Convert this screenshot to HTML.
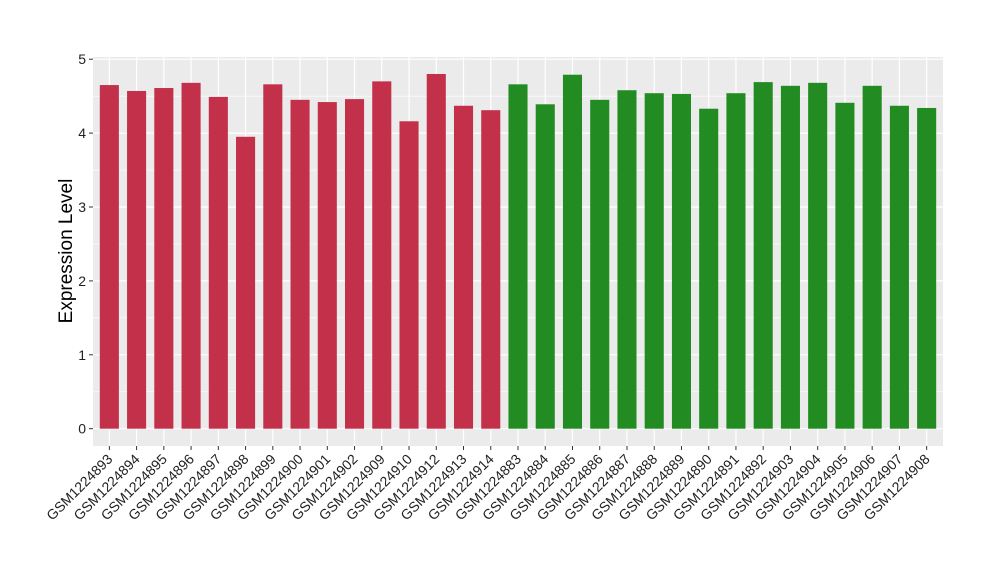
<!DOCTYPE html>
<html><head><meta charset="utf-8"><style>body{margin:0;background:#fff}svg text{font-family:"Liberation Sans",Arial,sans-serif}</style></head>
<body>
<svg id="chart" width="1000" height="580" xmlns="http://www.w3.org/2000/svg"></svg>
<script>
const categories=["GSM1224893","GSM1224894","GSM1224895","GSM1224896","GSM1224897","GSM1224898","GSM1224899","GSM1224900","GSM1224901","GSM1224902","GSM1224909","GSM1224910","GSM1224912","GSM1224913","GSM1224914","GSM1224883","GSM1224884","GSM1224885","GSM1224886","GSM1224887","GSM1224888","GSM1224889","GSM1224890","GSM1224891","GSM1224892","GSM1224903","GSM1224904","GSM1224905","GSM1224906","GSM1224907","GSM1224908"];
const values=[4.65,4.57,4.61,4.68,4.49,3.95,4.66,4.45,4.42,4.46,4.70,4.16,4.80,4.37,4.31,4.66,4.39,4.79,4.45,4.58,4.54,4.53,4.33,4.54,4.69,4.64,4.68,4.41,4.64,4.37,4.34];
const groups=[0,0,0,0,0,0,0,0,0,0,0,0,0,0,0,1,1,1,1,1,1,1,1,1,1,1,1,1,1,1,1];
const yTicks=[0,1,2,3,4,5];
const colors=["#C3304A","#228B22"];
const NS="http://www.w3.org/2000/svg",svg=document.getElementById('chart');
const L=93,R=943,T=57,B=446;
const y=v=>428.7-v*73.9;
const step=(R-L)/(categories.length-1+1.2);
const x=i=>L+(0.6+i)*step;
function mk(t,a,p){const e=document.createElementNS(NS,t);for(const k in a)e.setAttribute(k,a[k]);(p||svg).appendChild(e);return e;}
const bg=mk('rect',{x:L,y:T,width:R-L,height:B-T,fill:'#EBEBEB'});


for(let i=0;i<yTicks.length-1;i++){mk('line',{x1:L,x2:R,y1:y(yTicks[i]+0.5),y2:y(yTicks[i]+0.5),stroke:'#fff','stroke-width':0.6});}
yTicks.forEach(v=>{
 const g=mk('line',{x1:L,x2:R,y1:y(v),y2:y(v),stroke:'#fff','stroke-width':1.2});
 
 
 mk('line',{x1:L-4,x2:L,y1:y(v),y2:y(v),stroke:'#333','stroke-width':1});
 const t=mk('text',{x:L-7,y:y(v)+5,'text-anchor':'end','font-size':14,fill:'#222'});t.textContent=v;
 
 
});
categories.forEach((c,i)=>{
 mk('line',{x1:x(i),x2:x(i),y1:T,y2:B,stroke:'#fff','stroke-width':1.2});
});
categories.forEach((c,i)=>{
 const bw=step*0.7;
 const r=mk('rect',{x:x(i)-bw/2,y:y(values[i]),width:bw,height:y(0)-y(values[i]),fill:colors[groups[i]]});
 
 
 mk('line',{x1:x(i),x2:x(i),y1:B,y2:B+4,stroke:'#333','stroke-width':1});
 const t=mk('text',{x:x(i)+4,y:B+14,'text-anchor':'end','font-size':14,fill:'#222',transform:`rotate(-45 ${x(i)+4} ${B+14})`});t.textContent=c;
 
 
});
const yl=mk('text',{x:72,y:251,'text-anchor':'middle','font-size':19,fill:'#000',transform:'rotate(-90 72 251)'});yl.textContent='Expression Level';


</script>
</body></html>
